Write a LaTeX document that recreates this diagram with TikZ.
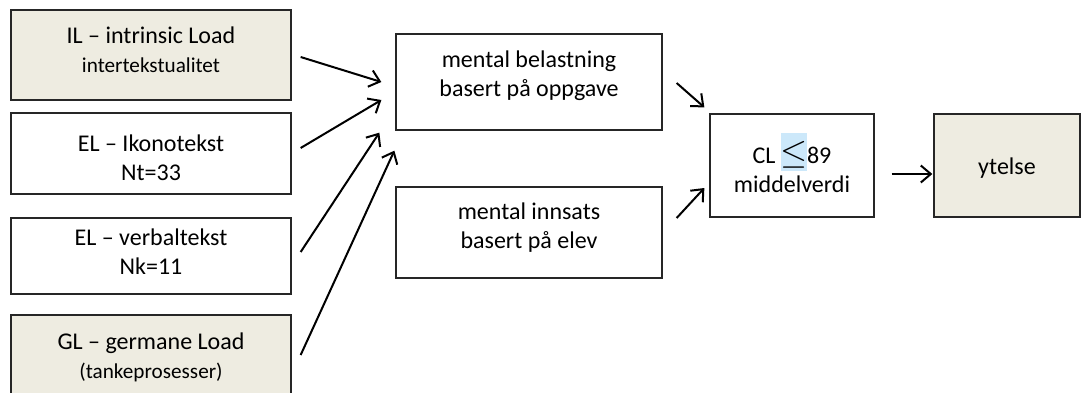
\documentclass[tikz,border=0pt]{standalone}
\usepackage{fontspec}
\setmainfont{Carlito}
\usetikzlibrary{arrows.meta}
\definecolor{tan}{RGB}{238,236,225}
\definecolor{hl}{RGB}{204,232,250}
\newcommand{\smalltxt}[1]{{\fontsize{10.6}{13}\selectfont #1}}
\begin{document}
\begin{tikzpicture}[
  x=0.5pt, y=-0.5pt,
  every node/.style={font=\fontsize{12}{14.5}\selectfont},
  box/.style={draw=black!85, line width=0.65pt, fill=white, inner sep=0pt},
  load/.style={box, fill=tan},
  txt/.style={align=center, inner sep=0pt},
  arr/.style={line width=1pt, -{Straight Barb[length=5pt,width=8.5pt,line width=1pt]}}
]
\useasboundingbox (0,0) rectangle (1087,392);
\clip (0,0) rectangle (1087,392);
\node[load, minimum width=140pt, minimum height=45pt,
  label={[txt, yshift=2.75pt]center:IL -- intrinsic Load\\\smalltxt{intertekstualitet}}] (il) at (151,55) {};
\node[box, minimum width=140pt, minimum height=40.5pt,
  label={[txt, yshift=-2.25pt]center:EL -- Ikonotekst\\Nt=33}] (ikon) at (151,153.5) {};
\node[box, minimum width=140pt, minimum height=38pt,
  label={[txt, yshift=2pt]center:EL -- verbaltekst\\Nk=11}] (verbal) at (151,256) {};
\node[load, minimum width=140pt, minimum height=42pt,
  label={[txt]center:GL -- germane Load\\\smalltxt{(tankeprosesser)}}] (gl) at (151,357) {};
\node[box, minimum width=133pt, minimum height=48pt,
  label={[txt, yshift=3.25pt]center:mental belastning\\basert på oppgave}] (belast) at (529,82) {};
\node[box, minimum width=133pt, minimum height=45.5pt,
  label={[txt, yshift=2.5pt]center:mental innsats\\basert på elev}] (innsats) at (529,232.5) {};
\node[box, minimum width=82pt, minimum height=51.5pt,
  label={[txt, yshift=1.25pt]center:CL {\setlength{\fboxsep}{0pt}\colorbox{hl}{\makebox[13pt]{\rule[-3.5pt]{0pt}{19pt}\scalebox{1.45}{$\leq$}}}}89\\middelverdi}] (cl) at (792,165.5) {};
\node[load, minimum width=73pt, minimum height=51.5pt,
  label={[txt, yshift=-1.5pt]center:ytelse}] (ytelse) at (1007,165.5) {};
\draw[arr] ([shift={(9,2)}]il.east) -- ([shift={(-14,0)}]belast.west);
\draw[arr] ([shift={(9,-5.5)}]ikon.east) -- ([shift={(-14,18)}]belast.west);
\draw[arr] ([shift={(9,-4)}]verbal.east) -- ([shift={(-16,2)}]belast.south west);
\draw[arr] ([shift={(9,-2)}]gl.east) -- ([shift={(-1,20)}]belast.south west);
\draw[arr] ([shift={(14,1)}]belast.east) -- ([shift={(-5,-6)}]cl.north west);
\draw[arr] ([shift={(14,-14.5)}]innsats.east) -- ([shift={(-5,22.5)}]cl.west);
\draw[arr] ([shift={(17,8.5)}]cl.east) -- ([shift={(-1,8.5)}]ytelse.west);
\end{tikzpicture}
\end{document}
